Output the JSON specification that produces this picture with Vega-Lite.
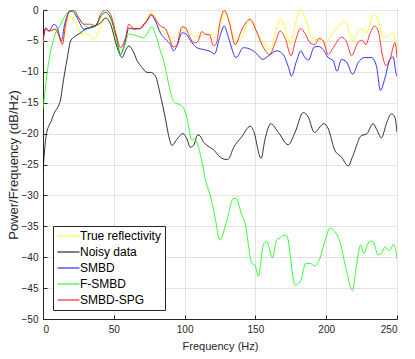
{
  "$schema": "https://vega.github.io/schema/vega-lite/v6.json",
  "width": 354,
  "height": 309,
  "autosize": {"type": "none"},
  "padding": {"left": 43, "top": 10, "right": 18, "bottom": 40},
  "background": "white",
  "config": {
    "font": "Liberation Sans",
    "view": {"stroke": "#262626", "strokeWidth": 1},
    "axis": {
      "domainColor": "#262626",
      "tickColor": "#262626",
      "labelColor": "#262626",
      "titleColor": "#262626",
      "gridColor": "#e3e3e3",
      "labelFontSize": 10,
      "titleFontSize": 11,
      "titleFontWeight": "normal"
    }
  },
  "data": {
    "values": [
      {"s": "True reflectivity", "f": 0, "p": -5.3},
      {"s": "True reflectivity", "f": 1.9, "p": -3.4},
      {"s": "True reflectivity", "f": 4.3, "p": -3.4},
      {"s": "True reflectivity", "f": 7.8, "p": -3.1},
      {"s": "True reflectivity", "f": 11.3, "p": -4.2},
      {"s": "True reflectivity", "f": 13.7, "p": -5.3},
      {"s": "True reflectivity", "f": 16, "p": -2.9},
      {"s": "True reflectivity", "f": 19.5, "p": -1.0},
      {"s": "True reflectivity", "f": 21.9, "p": -1.3},
      {"s": "True reflectivity", "f": 25.4, "p": -3.1},
      {"s": "True reflectivity", "f": 27.7, "p": -3.9},
      {"s": "True reflectivity", "f": 31.3, "p": -3.9},
      {"s": "True reflectivity", "f": 36, "p": -4.7},
      {"s": "True reflectivity", "f": 39.5, "p": -3.4},
      {"s": "True reflectivity", "f": 43, "p": -1.4},
      {"s": "True reflectivity", "f": 45.3, "p": -1.2},
      {"s": "True reflectivity", "f": 48.8, "p": -2.9},
      {"s": "True reflectivity", "f": 52.4, "p": -5.6},
      {"s": "True reflectivity", "f": 55.4, "p": -6.6},
      {"s": "True reflectivity", "f": 59.4, "p": -3.8},
      {"s": "True reflectivity", "f": 62, "p": -3.0},
      {"s": "True reflectivity", "f": 66.5, "p": -2.7},
      {"s": "True reflectivity", "f": 71.2, "p": -2.3},
      {"s": "True reflectivity", "f": 73.5, "p": -1.3},
      {"s": "True reflectivity", "f": 76.3, "p": -0.3},
      {"s": "True reflectivity", "f": 79.4, "p": -1.3},
      {"s": "True reflectivity", "f": 81.7, "p": -3.1},
      {"s": "True reflectivity", "f": 85.2, "p": -3.5},
      {"s": "True reflectivity", "f": 90, "p": -4.5},
      {"s": "True reflectivity", "f": 93.4, "p": -4.5},
      {"s": "True reflectivity", "f": 98.2, "p": -3.1},
      {"s": "True reflectivity", "f": 100.5, "p": -2.8},
      {"s": "True reflectivity", "f": 104, "p": -3.6},
      {"s": "True reflectivity", "f": 108.7, "p": -4.4},
      {"s": "True reflectivity", "f": 113.4, "p": -4.0},
      {"s": "True reflectivity", "f": 118.1, "p": -4.0},
      {"s": "True reflectivity", "f": 121.6, "p": -4.5},
      {"s": "True reflectivity", "f": 125.1, "p": -2.9},
      {"s": "True reflectivity", "f": 128.2, "p": -0.2},
      {"s": "True reflectivity", "f": 131, "p": -1.5},
      {"s": "True reflectivity", "f": 133, "p": -3.0},
      {"s": "True reflectivity", "f": 135.7, "p": -5.3},
      {"s": "True reflectivity", "f": 140.4, "p": -4.3},
      {"s": "True reflectivity", "f": 146.3, "p": -1.7},
      {"s": "True reflectivity", "f": 152, "p": -3.9},
      {"s": "True reflectivity", "f": 157, "p": -5.8},
      {"s": "True reflectivity", "f": 160.5, "p": -6.4},
      {"s": "True reflectivity", "f": 164, "p": -3.9},
      {"s": "True reflectivity", "f": 167.6, "p": -1.4},
      {"s": "True reflectivity", "f": 171.1, "p": -3.1},
      {"s": "True reflectivity", "f": 174.6, "p": -5.6},
      {"s": "True reflectivity", "f": 178.2, "p": -2.3},
      {"s": "True reflectivity", "f": 181.7, "p": 0},
      {"s": "True reflectivity", "f": 185.3, "p": -1.3},
      {"s": "True reflectivity", "f": 190, "p": -4.5},
      {"s": "True reflectivity", "f": 193.5, "p": -4.8},
      {"s": "True reflectivity", "f": 196.8, "p": -5.3},
      {"s": "True reflectivity", "f": 199.5, "p": -5.4},
      {"s": "True reflectivity", "f": 202.6, "p": -4.5},
      {"s": "True reflectivity", "f": 206.1, "p": -3.4},
      {"s": "True reflectivity", "f": 210, "p": -2.3},
      {"s": "True reflectivity", "f": 212.5, "p": -1.7},
      {"s": "True reflectivity", "f": 214.5, "p": -2.3},
      {"s": "True reflectivity", "f": 217.9, "p": -4.8},
      {"s": "True reflectivity", "f": 219.5, "p": -5.0},
      {"s": "True reflectivity", "f": 221.4, "p": -3.9},
      {"s": "True reflectivity", "f": 224.9, "p": -3.1},
      {"s": "True reflectivity", "f": 228.2, "p": -3.8},
      {"s": "True reflectivity", "f": 230.8, "p": -2.3},
      {"s": "True reflectivity", "f": 234, "p": -0.7},
      {"s": "True reflectivity", "f": 236.8, "p": -1.7},
      {"s": "True reflectivity", "f": 240.5, "p": -4.5},
      {"s": "True reflectivity", "f": 243.8, "p": -4.2},
      {"s": "True reflectivity", "f": 246.8, "p": -3.7},
      {"s": "True reflectivity", "f": 249.2, "p": -5.6},
      {"s": "True reflectivity", "f": 250, "p": -6.3},

      {"s": "Noisy data", "f": 0, "p": -26.0},
      {"s": "Noisy data", "f": 1.9, "p": -20.9},
      {"s": "Noisy data", "f": 4.2, "p": -18.7},
      {"s": "Noisy data", "f": 5.4, "p": -18.2},
      {"s": "Noisy data", "f": 7.7, "p": -16.8},
      {"s": "Noisy data", "f": 8.9, "p": -16.3},
      {"s": "Noisy data", "f": 11.3, "p": -15.3},
      {"s": "Noisy data", "f": 12.5, "p": -14.4},
      {"s": "Noisy data", "f": 13.7, "p": -12.5},
      {"s": "Noisy data", "f": 17.2, "p": -7.7},
      {"s": "Noisy data", "f": 19.5, "p": -5.0},
      {"s": "Noisy data", "f": 23, "p": -4.2},
      {"s": "Noisy data", "f": 26.5, "p": -3.7},
      {"s": "Noisy data", "f": 31.3, "p": -2.9},
      {"s": "Noisy data", "f": 36, "p": -2.6},
      {"s": "Noisy data", "f": 40.6, "p": -2.1},
      {"s": "Noisy data", "f": 44.2, "p": -1.3},
      {"s": "Noisy data", "f": 47.7, "p": -2.3},
      {"s": "Noisy data", "f": 52.4, "p": -6.1},
      {"s": "Noisy data", "f": 55.9, "p": -7.7},
      {"s": "Noisy data", "f": 58.2, "p": -6.6},
      {"s": "Noisy data", "f": 60.6, "p": -5.8},
      {"s": "Noisy data", "f": 63, "p": -6.4},
      {"s": "Noisy data", "f": 66.5, "p": -8.2},
      {"s": "Noisy data", "f": 70, "p": -9.3},
      {"s": "Noisy data", "f": 73.5, "p": -10.1},
      {"s": "Noisy data", "f": 76, "p": -10.1},
      {"s": "Noisy data", "f": 79.4, "p": -10.7},
      {"s": "Noisy data", "f": 82.9, "p": -13.8},
      {"s": "Noisy data", "f": 86.4, "p": -17.5},
      {"s": "Noisy data", "f": 88.7, "p": -20.3},
      {"s": "Noisy data", "f": 91.1, "p": -21.9},
      {"s": "Noisy data", "f": 94.6, "p": -20.9},
      {"s": "Noisy data", "f": 98.9, "p": -20.0},
      {"s": "Noisy data", "f": 101.7, "p": -20.9},
      {"s": "Noisy data", "f": 104, "p": -22.2},
      {"s": "Noisy data", "f": 106.4, "p": -21.9},
      {"s": "Noisy data", "f": 109.2, "p": -20.2},
      {"s": "Noisy data", "f": 111, "p": -20.4},
      {"s": "Noisy data", "f": 113.4, "p": -21.4},
      {"s": "Noisy data", "f": 115.8, "p": -21.9},
      {"s": "Noisy data", "f": 120.4, "p": -22.6},
      {"s": "Noisy data", "f": 125.1, "p": -23.8},
      {"s": "Noisy data", "f": 129.4, "p": -24.2},
      {"s": "Noisy data", "f": 131, "p": -24.1},
      {"s": "Noisy data", "f": 134.5, "p": -22.3},
      {"s": "Noisy data", "f": 140.4, "p": -20.5},
      {"s": "Noisy data", "f": 146.3, "p": -18.8},
      {"s": "Noisy data", "f": 148.6, "p": -19.5},
      {"s": "Noisy data", "f": 154, "p": -24.0},
      {"s": "Noisy data", "f": 156.8, "p": -20.9},
      {"s": "Noisy data", "f": 160.8, "p": -18.4},
      {"s": "Noisy data", "f": 166.2, "p": -19.8},
      {"s": "Noisy data", "f": 173.2, "p": -21.8},
      {"s": "Noisy data", "f": 178, "p": -19.8},
      {"s": "Noisy data", "f": 183.8, "p": -16.6},
      {"s": "Noisy data", "f": 187.3, "p": -17.3},
      {"s": "Noisy data", "f": 191.6, "p": -19.8},
      {"s": "Noisy data", "f": 198.4, "p": -18.4},
      {"s": "Noisy data", "f": 201.4, "p": -19.2},
      {"s": "Noisy data", "f": 206.1, "p": -22.7},
      {"s": "Noisy data", "f": 210.8, "p": -23.8},
      {"s": "Noisy data", "f": 215.5, "p": -25.2},
      {"s": "Noisy data", "f": 219, "p": -23.5},
      {"s": "Noisy data", "f": 224.9, "p": -20.3},
      {"s": "Noisy data", "f": 228.4, "p": -20.1},
      {"s": "Noisy data", "f": 233.1, "p": -18.4},
      {"s": "Noisy data", "f": 235.4, "p": -19.2},
      {"s": "Noisy data", "f": 239, "p": -20.7},
      {"s": "Noisy data", "f": 242.5, "p": -18.4},
      {"s": "Noisy data", "f": 246, "p": -16.8},
      {"s": "Noisy data", "f": 248.4, "p": -17.3},
      {"s": "Noisy data", "f": 250, "p": -19.8},

      {"s": "SMBD", "f": 0, "p": -4.8},
      {"s": "SMBD", "f": 1.9, "p": -2.9},
      {"s": "SMBD", "f": 4.3, "p": -3.4},
      {"s": "SMBD", "f": 7.8, "p": -2.3},
      {"s": "SMBD", "f": 10.1, "p": -2.9},
      {"s": "SMBD", "f": 13, "p": -5.0},
      {"s": "SMBD", "f": 15.3, "p": -2.3},
      {"s": "SMBD", "f": 18.3, "p": -0.4},
      {"s": "SMBD", "f": 20.7, "p": -0.2},
      {"s": "SMBD", "f": 24.2, "p": -1.3},
      {"s": "SMBD", "f": 28.9, "p": -3.1},
      {"s": "SMBD", "f": 33.6, "p": -2.9},
      {"s": "SMBD", "f": 37.1, "p": -2.6},
      {"s": "SMBD", "f": 41.8, "p": -0.7},
      {"s": "SMBD", "f": 44.2, "p": -0.4},
      {"s": "SMBD", "f": 47.7, "p": -1.3},
      {"s": "SMBD", "f": 51.9, "p": -4.5},
      {"s": "SMBD", "f": 54.7, "p": -7.2},
      {"s": "SMBD", "f": 58.2, "p": -5.0},
      {"s": "SMBD", "f": 60.6, "p": -2.9},
      {"s": "SMBD", "f": 64.1, "p": -3.1},
      {"s": "SMBD", "f": 68.8, "p": -3.0},
      {"s": "SMBD", "f": 71.2, "p": -2.3},
      {"s": "SMBD", "f": 73.5, "p": -1.8},
      {"s": "SMBD", "f": 76.5, "p": -0.8},
      {"s": "SMBD", "f": 79.4, "p": -1.8},
      {"s": "SMBD", "f": 82.9, "p": -3.7},
      {"s": "SMBD", "f": 86.4, "p": -4.7},
      {"s": "SMBD", "f": 90, "p": -5.6},
      {"s": "SMBD", "f": 92.2, "p": -6.6},
      {"s": "SMBD", "f": 94.6, "p": -5.8},
      {"s": "SMBD", "f": 98.2, "p": -3.7},
      {"s": "SMBD", "f": 100.5, "p": -3.8},
      {"s": "SMBD", "f": 105.2, "p": -5.3},
      {"s": "SMBD", "f": 108.7, "p": -6.1},
      {"s": "SMBD", "f": 113.4, "p": -6.4},
      {"s": "SMBD", "f": 118.1, "p": -6.7},
      {"s": "SMBD", "f": 121.2, "p": -7.1},
      {"s": "SMBD", "f": 124.3, "p": -4.8},
      {"s": "SMBD", "f": 128, "p": -2.6},
      {"s": "SMBD", "f": 131, "p": -4.5},
      {"s": "SMBD", "f": 136.4, "p": -7.7},
      {"s": "SMBD", "f": 141.5, "p": -6.1},
      {"s": "SMBD", "f": 147, "p": -6.4},
      {"s": "SMBD", "f": 151, "p": -7.1},
      {"s": "SMBD", "f": 155, "p": -8.0},
      {"s": "SMBD", "f": 159.3, "p": -7.4},
      {"s": "SMBD", "f": 165.2, "p": -6.6},
      {"s": "SMBD", "f": 169.9, "p": -7.3},
      {"s": "SMBD", "f": 173.4, "p": -9.3},
      {"s": "SMBD", "f": 175.5, "p": -10.7},
      {"s": "SMBD", "f": 179, "p": -8.3},
      {"s": "SMBD", "f": 182.2, "p": -6.6},
      {"s": "SMBD", "f": 184.4, "p": -7.5},
      {"s": "SMBD", "f": 187.5, "p": -8.1},
      {"s": "SMBD", "f": 191.5, "p": -6.0},
      {"s": "SMBD", "f": 194.4, "p": -5.9},
      {"s": "SMBD", "f": 197.9, "p": -6.4},
      {"s": "SMBD", "f": 201.4, "p": -7.7},
      {"s": "SMBD", "f": 204.9, "p": -8.2},
      {"s": "SMBD", "f": 207.6, "p": -9.9},
      {"s": "SMBD", "f": 210.8, "p": -8.0},
      {"s": "SMBD", "f": 214.3, "p": -8.4},
      {"s": "SMBD", "f": 218.7, "p": -10.4},
      {"s": "SMBD", "f": 222.6, "p": -8.5},
      {"s": "SMBD", "f": 227.3, "p": -7.7},
      {"s": "SMBD", "f": 232, "p": -7.7},
      {"s": "SMBD", "f": 235.5, "p": -9.1},
      {"s": "SMBD", "f": 238.3, "p": -13.0},
      {"s": "SMBD", "f": 241.4, "p": -11.1},
      {"s": "SMBD", "f": 245, "p": -8.0},
      {"s": "SMBD", "f": 247.3, "p": -7.6},
      {"s": "SMBD", "f": 249.2, "p": -10.1},
      {"s": "SMBD", "f": 250, "p": -10.7},

      {"s": "F-SMBD", "f": 0, "p": -16.0},
      {"s": "F-SMBD", "f": 1.5, "p": -13.0},
      {"s": "F-SMBD", "f": 3.1, "p": -9.9},
      {"s": "F-SMBD", "f": 7.8, "p": -4.5},
      {"s": "F-SMBD", "f": 12.5, "p": -2.3},
      {"s": "F-SMBD", "f": 17.2, "p": -0.4},
      {"s": "F-SMBD", "f": 20.3, "p": 0},
      {"s": "F-SMBD", "f": 24.2, "p": -1.0},
      {"s": "F-SMBD", "f": 28.9, "p": -2.4},
      {"s": "F-SMBD", "f": 33.6, "p": -2.9},
      {"s": "F-SMBD", "f": 37.1, "p": -2.4},
      {"s": "F-SMBD", "f": 41.8, "p": -0.8},
      {"s": "F-SMBD", "f": 44.2, "p": -0.4},
      {"s": "F-SMBD", "f": 47.7, "p": -1.1},
      {"s": "F-SMBD", "f": 51.2, "p": -3.9},
      {"s": "F-SMBD", "f": 54.7, "p": -7.2},
      {"s": "F-SMBD", "f": 58, "p": -5.5},
      {"s": "F-SMBD", "f": 60.6, "p": -3.9},
      {"s": "F-SMBD", "f": 66.5, "p": -4.2},
      {"s": "F-SMBD", "f": 71.2, "p": -4.5},
      {"s": "F-SMBD", "f": 74.7, "p": -3.4},
      {"s": "F-SMBD", "f": 77, "p": -2.7},
      {"s": "F-SMBD", "f": 79.4, "p": -3.9},
      {"s": "F-SMBD", "f": 82.9, "p": -6.6},
      {"s": "F-SMBD", "f": 85.2, "p": -8.2},
      {"s": "F-SMBD", "f": 89.9, "p": -13.1},
      {"s": "F-SMBD", "f": 92.3, "p": -14.8},
      {"s": "F-SMBD", "f": 95, "p": -15.2},
      {"s": "F-SMBD", "f": 98.2, "p": -15.5},
      {"s": "F-SMBD", "f": 101.7, "p": -17.5},
      {"s": "F-SMBD", "f": 105.2, "p": -21.1},
      {"s": "F-SMBD", "f": 106.5, "p": -20.8},
      {"s": "F-SMBD", "f": 108, "p": -21.1},
      {"s": "F-SMBD", "f": 112.3, "p": -24.6},
      {"s": "F-SMBD", "f": 114.6, "p": -27.4},
      {"s": "F-SMBD", "f": 118.1, "p": -30.0},
      {"s": "F-SMBD", "f": 121.6, "p": -33.7},
      {"s": "F-SMBD", "f": 124.8, "p": -37.2},
      {"s": "F-SMBD", "f": 129.9, "p": -34.0},
      {"s": "F-SMBD", "f": 134.5, "p": -30.5},
      {"s": "F-SMBD", "f": 136.4, "p": -30.5},
      {"s": "F-SMBD", "f": 140.4, "p": -33.2},
      {"s": "F-SMBD", "f": 142.7, "p": -34.5},
      {"s": "F-SMBD", "f": 147.5, "p": -41.0},
      {"s": "F-SMBD", "f": 149.8, "p": -41.3},
      {"s": "F-SMBD", "f": 152.1, "p": -43.1},
      {"s": "F-SMBD", "f": 155.6, "p": -38.0},
      {"s": "F-SMBD", "f": 158, "p": -37.5},
      {"s": "F-SMBD", "f": 162.2, "p": -40.1},
      {"s": "F-SMBD", "f": 165, "p": -37.2},
      {"s": "F-SMBD", "f": 167.3, "p": -36.9},
      {"s": "F-SMBD", "f": 169.7, "p": -36.5},
      {"s": "F-SMBD", "f": 172, "p": -36.5},
      {"s": "F-SMBD", "f": 178, "p": -44.5},
      {"s": "F-SMBD", "f": 181.5, "p": -44.0},
      {"s": "F-SMBD", "f": 185.7, "p": -41.0},
      {"s": "F-SMBD", "f": 188.5, "p": -41.0},
      {"s": "F-SMBD", "f": 192, "p": -41.4},
      {"s": "F-SMBD", "f": 195.5, "p": -40.2},
      {"s": "F-SMBD", "f": 199, "p": -37.5},
      {"s": "F-SMBD", "f": 202.6, "p": -35.3},
      {"s": "F-SMBD", "f": 205, "p": -35.6},
      {"s": "F-SMBD", "f": 209.7, "p": -37.5},
      {"s": "F-SMBD", "f": 214.4, "p": -42.3},
      {"s": "F-SMBD", "f": 218.6, "p": -45.4},
      {"s": "F-SMBD", "f": 221.4, "p": -41.3},
      {"s": "F-SMBD", "f": 224.4, "p": -38.0},
      {"s": "F-SMBD", "f": 226.5, "p": -39.4},
      {"s": "F-SMBD", "f": 230.7, "p": -37.4},
      {"s": "F-SMBD", "f": 233.1, "p": -37.5},
      {"s": "F-SMBD", "f": 236.6, "p": -39.6},
      {"s": "F-SMBD", "f": 239, "p": -39.4},
      {"s": "F-SMBD", "f": 241.3, "p": -38.4},
      {"s": "F-SMBD", "f": 244.8, "p": -38.9},
      {"s": "F-SMBD", "f": 247.7, "p": -37.9},
      {"s": "F-SMBD", "f": 250, "p": -40.2},

      {"s": "SMBD-SPG", "f": 0, "p": -5.0},
      {"s": "SMBD-SPG", "f": 1.9, "p": -3.1},
      {"s": "SMBD-SPG", "f": 4.3, "p": -3.4},
      {"s": "SMBD-SPG", "f": 8.9, "p": -3.1},
      {"s": "SMBD-SPG", "f": 11.3, "p": -4.2},
      {"s": "SMBD-SPG", "f": 13.7, "p": -5.6},
      {"s": "SMBD-SPG", "f": 16, "p": -2.3},
      {"s": "SMBD-SPG", "f": 19.5, "p": 0},
      {"s": "SMBD-SPG", "f": 21.9, "p": 0},
      {"s": "SMBD-SPG", "f": 25.4, "p": -1.3},
      {"s": "SMBD-SPG", "f": 28.9, "p": -2.3},
      {"s": "SMBD-SPG", "f": 33.6, "p": -2.3},
      {"s": "SMBD-SPG", "f": 37.1, "p": -2.6},
      {"s": "SMBD-SPG", "f": 40.6, "p": -0.7},
      {"s": "SMBD-SPG", "f": 44.2, "p": 0},
      {"s": "SMBD-SPG", "f": 47.7, "p": -0.7},
      {"s": "SMBD-SPG", "f": 51.9, "p": -4.2},
      {"s": "SMBD-SPG", "f": 54.7, "p": -6.1},
      {"s": "SMBD-SPG", "f": 58.2, "p": -4.5},
      {"s": "SMBD-SPG", "f": 60.6, "p": -2.3},
      {"s": "SMBD-SPG", "f": 64.1, "p": -3.0},
      {"s": "SMBD-SPG", "f": 68.8, "p": -3.0},
      {"s": "SMBD-SPG", "f": 72.3, "p": -2.1},
      {"s": "SMBD-SPG", "f": 76.5, "p": -0.7},
      {"s": "SMBD-SPG", "f": 79.4, "p": -1.5},
      {"s": "SMBD-SPG", "f": 82.9, "p": -2.6},
      {"s": "SMBD-SPG", "f": 86.4, "p": -3.0},
      {"s": "SMBD-SPG", "f": 88.7, "p": -4.2},
      {"s": "SMBD-SPG", "f": 92.2, "p": -6.0},
      {"s": "SMBD-SPG", "f": 94.6, "p": -5.6},
      {"s": "SMBD-SPG", "f": 98.2, "p": -2.7},
      {"s": "SMBD-SPG", "f": 100.5, "p": -2.9},
      {"s": "SMBD-SPG", "f": 104, "p": -4.5},
      {"s": "SMBD-SPG", "f": 106.3, "p": -5.3},
      {"s": "SMBD-SPG", "f": 109, "p": -5.2},
      {"s": "SMBD-SPG", "f": 112.2, "p": -3.5},
      {"s": "SMBD-SPG", "f": 114.6, "p": -3.9},
      {"s": "SMBD-SPG", "f": 117.5, "p": -4.0},
      {"s": "SMBD-SPG", "f": 120.4, "p": -5.8},
      {"s": "SMBD-SPG", "f": 122.3, "p": -5.5},
      {"s": "SMBD-SPG", "f": 125.1, "p": -1.8},
      {"s": "SMBD-SPG", "f": 128, "p": -0.1},
      {"s": "SMBD-SPG", "f": 131, "p": -1.5},
      {"s": "SMBD-SPG", "f": 132.2, "p": -2.6},
      {"s": "SMBD-SPG", "f": 135.7, "p": -5.6},
      {"s": "SMBD-SPG", "f": 140.4, "p": -3.2},
      {"s": "SMBD-SPG", "f": 146.3, "p": -1.5},
      {"s": "SMBD-SPG", "f": 151, "p": -3.6},
      {"s": "SMBD-SPG", "f": 155.7, "p": -6.1},
      {"s": "SMBD-SPG", "f": 160, "p": -7.2},
      {"s": "SMBD-SPG", "f": 164, "p": -5.3},
      {"s": "SMBD-SPG", "f": 167.5, "p": -3.4},
      {"s": "SMBD-SPG", "f": 171.1, "p": -4.6},
      {"s": "SMBD-SPG", "f": 175.2, "p": -7.4},
      {"s": "SMBD-SPG", "f": 178.4, "p": -4.9},
      {"s": "SMBD-SPG", "f": 181.8, "p": -3.0},
      {"s": "SMBD-SPG", "f": 185.3, "p": -3.9},
      {"s": "SMBD-SPG", "f": 188.5, "p": -5.3},
      {"s": "SMBD-SPG", "f": 192, "p": -5.6},
      {"s": "SMBD-SPG", "f": 195, "p": -4.6},
      {"s": "SMBD-SPG", "f": 197.9, "p": -5.0},
      {"s": "SMBD-SPG", "f": 201.4, "p": -7.2},
      {"s": "SMBD-SPG", "f": 204.9, "p": -6.1},
      {"s": "SMBD-SPG", "f": 210.8, "p": -4.4},
      {"s": "SMBD-SPG", "f": 214.3, "p": -5.1},
      {"s": "SMBD-SPG", "f": 217.9, "p": -7.4},
      {"s": "SMBD-SPG", "f": 222.6, "p": -5.2},
      {"s": "SMBD-SPG", "f": 225.6, "p": -4.9},
      {"s": "SMBD-SPG", "f": 228, "p": -5.6},
      {"s": "SMBD-SPG", "f": 230.8, "p": -3.9},
      {"s": "SMBD-SPG", "f": 234.2, "p": -2.6},
      {"s": "SMBD-SPG", "f": 236.8, "p": -3.4},
      {"s": "SMBD-SPG", "f": 239.6, "p": -7.2},
      {"s": "SMBD-SPG", "f": 242.2, "p": -9.0},
      {"s": "SMBD-SPG", "f": 245, "p": -8.0},
      {"s": "SMBD-SPG", "f": 248.6, "p": -5.3},
      {"s": "SMBD-SPG", "f": 250, "p": -7.7}
    ]
  },
  "mark": {"type": "line", "strokeWidth": 0.8, "interpolate": "monotone", "clip": true},
  "encoding": {
    "x": {
      "field": "f",
      "type": "quantitative",
      "scale": {"domain": [0, 250], "nice": false},
      "axis": {
        "title": "Frequency (Hz)",
        "values": [0, 50, 100, 150, 200, 250],
        "tickSize": -4,
        "labelPadding": 9,
        "titlePadding": 6
      }
    },
    "y": {
      "field": "p",
      "type": "quantitative",
      "scale": {"domain": [-50, 0], "nice": false},
      "axis": {
        "title": "Power/Frequency (dB/Hz)",
        "titleFontSize": 13,
        "values": [-50, -45, -40, -35, -30, -25, -20, -15, -10, -5, 0],
        "tickSize": -4,
        "labelPadding": 9,
        "titlePadding": 1
      }
    },
    "color": {
      "field": "s",
      "type": "nominal",
      "scale": {
        "domain": ["True reflectivity", "Noisy data", "SMBD", "F-SMBD", "SMBD-SPG"],
        "range": ["#ffff00", "#000000", "#0000ff", "#00ff00", "#ff0000"]
      },
      "legend": {
        "orient": "none",
        "legendX": 10,
        "legendY": 216,
        "title": null,
        "direction": "vertical",
        "fillColor": "white",
        "strokeColor": "#262626",
        "padding": 4,
        "labelFontSize": 12,
        "labelColor": "#000000",
        "symbolType": "M-1,0H3",
        "symbolSize": 121,
        "symbolStrokeWidth": 1,
        "labelOffset": 11,
        "rowPadding": 4
      }
    }
  }
}
